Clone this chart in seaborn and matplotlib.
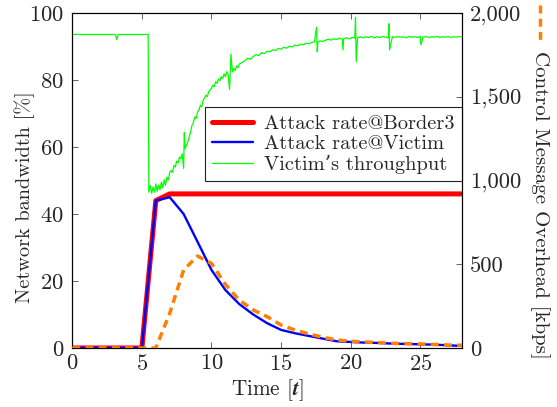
import numpy as np
import matplotlib
matplotlib.use("Agg")
import matplotlib.pyplot as plt
import seaborn as sns
from matplotlib.lines import Line2D
from matplotlib.ticker import FuncFormatter, MultipleLocator

# ---------------- data ----------------
border_t = [0, 5, 6, 7, 28]
border_v = [0, 0, 44, 46, 46]

victim_t = list(range(0, 29))
victim_v = [0, 0, 0, 0, 0, 0, 44, 45, 40, 31.7, 23.3, 17.3, 13.1, 10.0, 7.4, 5.4,
            4.4, 3.6, 2.8, 2.0, 1.8, 1.6, 1.5, 1.3, 1.2, 1.1, 1.0, 0.8, 0.6]

overhead_t = list(range(0, 29))
overhead_v = [0, 0, 0, 0, 0, 0, 0, 207, 466, 549, 505, 380, 286, 227, 187, 137,
              107, 84, 64, 48, 40, 36, 32, 28, 26, 24, 21, 18, 16]

thr_t = [0, 3.1, 3.2, 3.3, 5.45,
         5.5, 5.6, 5.7, 5.8, 5.9, 6.0, 6.1, 6.2, 6.3, 6.4, 6.5, 6.6, 6.7, 6.8, 6.9,
         7.0, 7.1, 7.2, 7.3, 7.4, 7.5, 7.6, 7.7, 7.8, 7.9, 8.0, 8.05, 8.1, 8.2, 8.3,
         8.4, 8.5, 8.6, 8.7, 8.8, 8.9, 9.0, 9.1, 9.2, 9.3, 9.4, 9.5, 9.6, 9.7, 9.8,
         9.9, 10.0, 10.1, 10.2, 10.3, 10.4, 10.5, 10.6, 10.7, 10.8, 10.9, 11.0, 11.1,
         11.2, 11.3, 11.4, 11.5, 11.6, 11.7, 11.8, 11.9, 12.0, 12.2, 12.4, 12.6, 12.8,
         13.0, 13.2, 13.4, 13.6, 13.8, 14.0, 14.2, 14.4, 14.6, 14.8, 15.0, 15.2, 15.4,
         15.6, 15.8, 16.0, 16.2, 16.4, 16.6, 16.8, 17.0, 17.2, 17.4, 17.55, 17.6,
         17.65, 17.8, 18.0, 18.2, 18.4, 18.6, 18.8, 19.0, 19.2, 19.4, 19.45, 19.5,
         19.7, 19.9, 20.1, 20.3, 20.35, 20.4, 20.5, 20.7, 20.9, 21.1, 21.3, 21.5,
         21.7, 21.9, 22.1, 22.3, 22.5, 22.7, 22.75, 22.8, 23.0, 23.2, 23.4, 23.6,
         23.8, 24.0, 24.2, 24.4, 24.6, 24.8, 25.0, 25.05, 25.2, 25.4, 25.6, 25.8,
         26.0, 26.2, 26.4, 26.6, 26.8, 27.0, 27.2, 27.4, 27.6, 27.8, 28.0]
thr_v = [93.6, 93.6, 92.1, 93.6, 93.6,
         46.5, 48.5, 46.2, 48.0, 46.5, 49.0, 46.8, 48.6, 47.2, 49.5, 47.8, 50.2, 48.6,
         51.0, 50.2, 52.5, 53.0, 52.4, 54.5, 54.0, 55.8, 55.2, 57.0, 56.5, 58.0,
         53.6, 64.3, 59.5, 60.5, 61.5,
         63.0, 64.5, 66.5, 67.2, 69.0, 68.5, 70.5, 71.0, 72.5, 72.0, 74.0, 74.6, 75.5,
         75.0, 76.5, 77.0, 77.5, 78.5, 78.0, 79.5, 79.0, 80.3, 79.8, 81.0, 80.4, 81.8,
         81.0, 82.5, 81.5, 77.2, 87.8, 82.5, 83.5, 82.8, 84.2, 83.6, 84.8, 85.2, 85.8,
         86.5, 86.2, 87.0, 87.6, 87.3, 88.2, 87.9, 88.6, 88.4, 89.0, 88.8, 89.4, 89.2,
         89.8, 89.5, 90.1, 89.9, 90.4, 90.2, 90.7, 90.5, 91.0, 90.8, 91.2, 91.4, 95.7,
         88.4, 91.3, 91.7, 91.5, 91.9, 92.2, 91.9, 92.3, 92.1, 92.5, 92.2, 89.0, 92.4,
         92.6, 92.3, 92.7, 92.5, 98.7, 85.5, 92.6, 92.9, 92.6, 92.9, 92.7, 93.0, 92.6,
         92.9, 92.7, 93.0, 92.8, 92.6, 96.8, 89.0, 92.9, 92.7, 93.0, 92.8,
         92.9, 92.6, 93.0, 92.8, 92.9, 92.7, 93.0, 90.5, 92.8, 93.0, 92.7, 92.9,
         92.8, 93.0, 92.7, 92.9, 92.8, 93.0, 92.7, 92.9, 92.8, 93.0, 92.8]

# ---------------- style ----------------
sns.set_style("ticks")
plt.rcParams["font.family"] = ["cmr10", "DejaVu Serif"]
plt.rcParams["mathtext.fontset"] = "cm"
plt.rcParams["axes.formatter.use_mathtext"] = True
plt.rcParams["axes.unicode_minus"] = False
FS_TICK = 16.3
FS_LAB = 15.3
FS_YLAB = 14.6
FS_LEG = 14.7
ORANGE = "#ff8000"
DASH = (0, (2.3, 1.5))

fig = plt.figure(figsize=(5.57, 4.07), dpi=100)
ax = fig.add_axes([0.1298, 0.145, 0.6996, 0.823])
ax2 = ax.twinx()

sns.lineplot(x=border_t, y=border_v, ax=ax, color=(1, 0, 0), lw=3.6,
             estimator=None, sort=False, label="Attack rate@Border3", zorder=2)
sns.lineplot(x=victim_t, y=victim_v, ax=ax, color=(0, 0, 1), lw=1.7,
             estimator=None, sort=False, label="Attack rate@Victim", zorder=3)
sns.lineplot(x=thr_t, y=thr_v, ax=ax, color=(0, 1, 0), lw=0.9,
             estimator=None, sort=False, label="Victim\u2019s throughput", zorder=4)
sns.lineplot(x=overhead_t, y=overhead_v, ax=ax2, color=ORANGE, lw=2.5,
             estimator=None, sort=False, zorder=5)
ax2.lines[0].set_linestyle(DASH)

ax.set_xlim(0, 28)
ax.set_ylim(0, 100)
ax2.set_ylim(0, 2000)
ax.xaxis.set_major_locator(MultipleLocator(5))
ax.yaxis.set_major_locator(MultipleLocator(20))
ax2.yaxis.set_major_locator(MultipleLocator(500))
ax2.yaxis.set_major_formatter(FuncFormatter(lambda v, p: f"{int(v):,}"))

ax.tick_params(axis="x", which="both", direction="in", top=True, bottom=True,
               length=4, width=0.5, labelsize=FS_TICK, pad=4)
ax.tick_params(axis="y", direction="in", left=True, right=False, length=4,
               width=0.5, labelsize=FS_TICK, pad=6)
ax2.tick_params(axis="y", direction="in", right=True, left=False, length=4,
                width=0.5, labelsize=FS_TICK, pad=6)
for a in (ax, ax2):
    for s in a.spines.values():
        s.set_visible(True)
        s.set_linewidth(0.8)
        s.set_color("black")

ax.set_xlabel("Time [$\\boldsymbol{t}$]", fontsize=FS_LAB, va="center")
ax.xaxis.set_label_coords(0.5, -0.125)
ax.set_ylabel("Network bandwidth [%]", fontsize=FS_YLAB, va="center")
ax.yaxis.set_label_coords(-0.121, 0.45)
ax2.set_ylabel("Control Message Overhead [kbps]", fontsize=15.0, rotation=270,
               va="center", ha="center")
ax2.yaxis.set_label_coords(1.199, 0.428)

leg = ax.legend(loc="upper right", bbox_to_anchor=(1.0, 0.7185), borderaxespad=0,
                fontsize=FS_LEG, frameon=True, fancybox=False, edgecolor="#222222",
                framealpha=1, handlelength=2.0, handletextpad=0.55,
                labelspacing=0.1, borderpad=0.35)
leg.get_frame().set_linewidth(0.8)
leg.set_zorder(10)

fig.add_artist(Line2D([0.9695, 0.9695], [0.9877, 0.8968], transform=fig.transFigure,
                      color=ORANGE, lw=2.5, linestyle=DASH))

fig.savefig("out.png", dpi=100)
